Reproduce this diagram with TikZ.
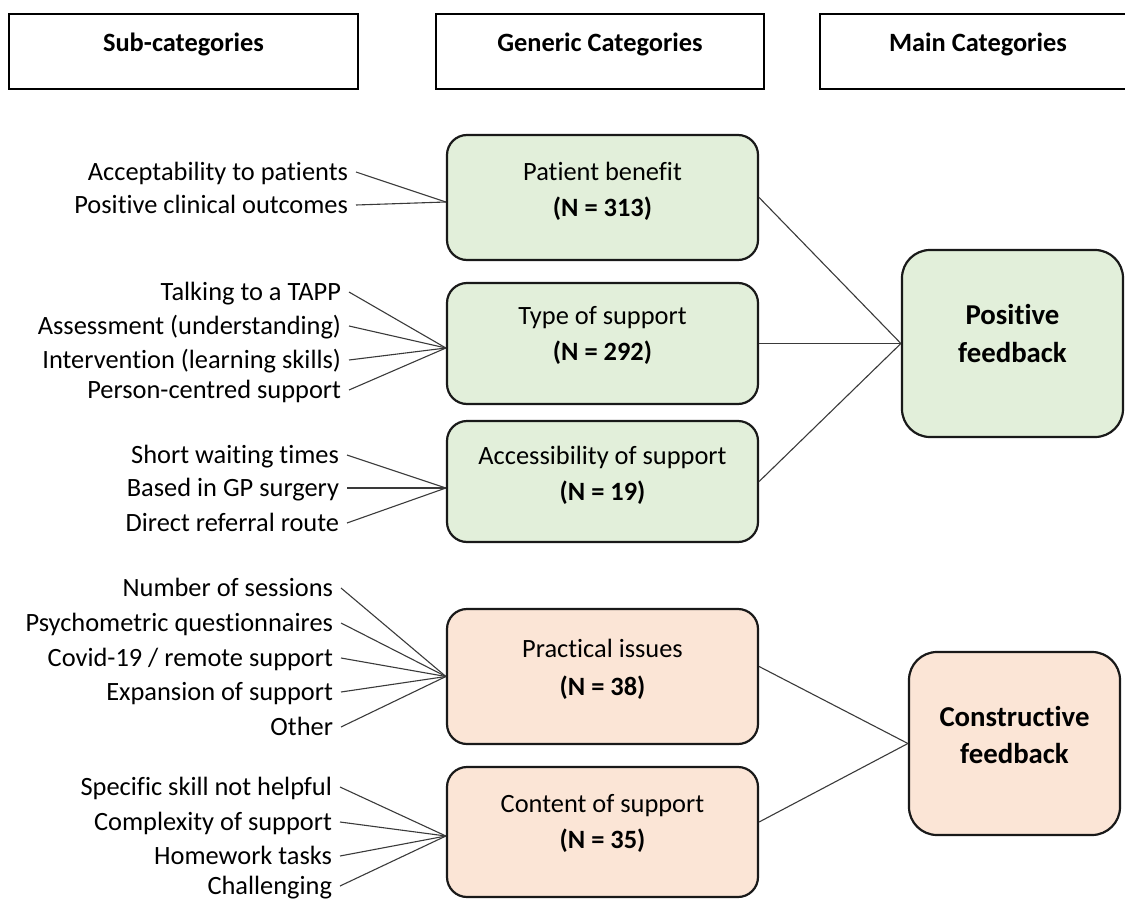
\documentclass[tikz,border=0pt]{standalone}
\usepackage{fontspec}
\setmainfont{Carlito}[Ligatures=NoCommon]
\usetikzlibrary{calc}
\definecolor{posfill}{HTML}{E2EFDA}
\definecolor{negfill}{HTML}{FBE5D6}
\definecolor{linkgray}{HTML}{3A3A3A}
\tikzset{
  hdrbox/.style={draw=black, line width=2.8pt, minimum height=75pt, inner sep=0pt},
  hdrtext/.style={anchor=base, font=\fontsize{26.4}{30}\selectfont\bfseries, inner sep=0pt},
  genbox/.style={draw=black!90, line width=2.2pt, rounded corners=20pt,
                 minimum width=311pt, inner sep=0pt},
  posbox/.style={genbox, fill=posfill},
  negbox/.style={genbox, fill=negfill},
  mainbox/.style={draw=black!90, line width=2.2pt, rounded corners=28pt, inner sep=0pt},
  boxtext/.style={anchor=base, font=\fontsize{26.4}{30}\selectfont, inner sep=0pt},
  boxnum/.style={boxtext, font=\fontsize{26.4}{30}\selectfont\bfseries},
  maintext/.style={anchor=base, font=\fontsize{28.8}{34}\selectfont\bfseries, inner sep=0pt},
  item/.style={anchor=east, font=\fontsize{26.4}{30}\selectfont, inner xsep=0pt,
               outer xsep=8pt, outer ysep=0pt, inner ysep=0pt,
               text height=20pt, text depth=4pt},
  link/.style={draw=linkgray, line width=1.1pt}
}
\begin{document}
\begin{tikzpicture}[x=1pt, y=-1pt]
\useasboundingbox (0,0) rectangle (1125,902);

% column headers
\node[hdrbox, minimum width=349pt] (hsub) at (183.5,51.5) {};
\node[hdrbox, minimum width=328pt] (hgen) at (600,51.5) {};
\node[hdrbox, minimum width=316pt] (hmain) at (978,51.5) {};
\node[hdrtext] (hsubt) at (183.5,51) {Sub-categories};
\node[hdrtext] (hgent) at (600,51) {Generic Categories};
\node[hdrtext] (hmaint) at (978,51) {Main Categories};

% generic categories
\node[posbox, minimum height=125pt] (pb)  at (602.5,197.5) {};
\node[posbox, minimum height=121pt] (tos) at (602.5,343.5) {};
\node[posbox, minimum height=121pt] (acc) at (602.5,481.5) {};
\node[negbox, minimum height=135pt] (pi)  at (602.5,676.5) {};
\node[negbox, minimum height=130pt] (cos) at (602.5,832) {};

\node[boxtext] (pbt)  at (602.5,180) {Patient benefit};
\node[boxnum]  (pbn)  at (602.5,216) {(N = 313)};
\node[boxtext] (tost) at (602.5,324) {Type of support};
\node[boxnum]  (tosn) at (602.5,360) {(N = 292)};
\node[boxtext] (acct) at (602.5,464) {Accessibility of support};
\node[boxnum]  (accn) at (602.5,500) {(N = 19)};
\node[boxtext] (pit)  at (602.5,657) {Practical issues};
\node[boxnum]  (pin)  at (602.5,695) {(N = 38)};
\node[boxtext] (cost) at (602.5,812) {Content of support};
\node[boxnum]  (cosn) at (602.5,848) {(N = 35)};

% main categories
\node[mainbox, fill=posfill, minimum width=221pt, minimum height=187pt] (pf) at (1012.5,343.5) {};
\node[mainbox, fill=negfill, minimum width=211pt, minimum height=183pt] (cf) at (1014.5,743.5) {};
\node[maintext] (pft1) at (1012.5,324) {Positive};
\node[maintext] (pft2) at (1012.5,362) {feedback};
\node[maintext] (cft1) at (1014.5,726) {Constructive};
\node[maintext] (cft2) at (1014.5,763) {feedback};

% sub-categories
\node[item] (a1) at (356,172) {Acceptability to patients};
\node[item] (a2) at (356,205) {Positive clinical outcomes};

\node[item] (b1) at (349,292) {Talking to a TAPP};
\node[item] (b2) at (349,326) {Assessment (understanding)};
\node[item] (b3) at (349,360) {Intervention (learning skills)};
\node[item] (b4) at (349,390) {Person-centred support};

\node[item] (c1) at (347,455) {Short waiting times};
\node[item] (c2) at (347,488) {Based in GP surgery};
\node[item] (c3) at (347,523) {Direct referral route};

\node[item] (d1) at (341,588) {Number of sessions};
\node[item] (d2) at (341,623) {Psychometric questionnaires};
\node[item] (d3) at (341,658) {Covid-19 / remote support};
\node[item] (d4) at (341,692) {Expansion of support};
\node[item] (d5) at (341,727) {Other};

\node[item] (e1) at (340,787) {Specific skill not helpful};
\node[item] (e2) at (340,822) {Complexity of support};
\node[item] (e3) at (340,856) {Homework tasks};
\node[item] (e4) at (340,886) {Challenging};

% connectors: sub-categories to generic categories
\foreach \s in {a1,a2} \draw[link] (\s.east) -- ([yshift=-4.5pt]pb.west);
\foreach \s in {b1,b2,b3,b4} \draw[link] (\s.east) -- ([yshift=-4.5pt]tos.west);
\foreach \s in {c1,c2,c3} \draw[link] (\s.east) -- ([yshift=-6.5pt]acc.west);
\foreach \s in {d1,d2,d3,d4,d5} \draw[link] (\s.east) -- (pi.west);
\foreach \s in {e1,e2,e3,e4} \draw[link] (\s.east) -- ([yshift=-4pt]cos.west);

% connectors: generic categories to main categories
\foreach \g in {pb,tos,acc} \draw[link] (\g.east) -- (pf.west);
\foreach \g in {pi,cos} \draw[link] ([yshift=10pt]\g.east) -- (cf.west);
\end{tikzpicture}
\end{document}
